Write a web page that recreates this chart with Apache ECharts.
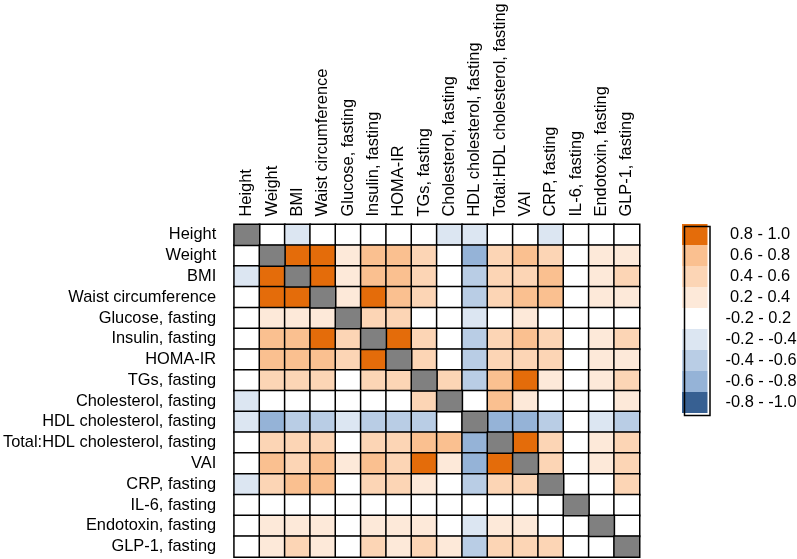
<!DOCTYPE html>
<html>
<head>
<meta charset="utf-8">
<script src="https://cdn.jsdelivr.net/npm/echarts@6/dist/echarts.min.js"></script>
<style>
html,body{margin:0;padding:0;background:#fff;}
#chart{width:797px;height:559px;}
</style>
</head>
<body>
<div id="chart"></div>
<script>
// Variable names (same order on both axes)
const variables = [
  'Height', 'Weight', 'BMI', 'Waist circumference', 'Glucose, fasting',
  'Insulin, fasting', 'HOMA-IR', 'TGs, fasting', 'Cholesterol, fasting',
  'HDL cholesterol, fasting', 'Total:HDL cholesterol, fasting', 'VAI',
  'CRP, fasting', 'IL-6, fasting', 'Endotoxin, fasting', 'GLP-1, fasting'
];

// Estimated correlation coefficients (row = y variable, column = x variable); null = diagonal
const corrMatrix = [
  [null, 0.0, -0.3, 0.0, 0.0, 0.0, 0.0, 0.0, -0.3, -0.3, 0.0, 0.0, -0.3, 0.0, 0.0, 0.0],
  [0.0, null, 0.9, 0.9, 0.3, 0.7, 0.7, 0.5, 0.0, -0.7, 0.5, 0.7, 0.5, 0.0, 0.3, 0.3],
  [-0.3, 0.9, null, 0.9, 0.3, 0.7, 0.7, 0.5, 0.0, -0.5, 0.5, 0.5, 0.7, 0.0, 0.3, 0.5],
  [0.0, 0.9, 0.9, null, 0.3, 0.9, 0.7, 0.5, 0.0, -0.5, 0.5, 0.7, 0.7, 0.0, 0.3, 0.3],
  [0.0, 0.3, 0.3, 0.3, null, 0.5, 0.5, 0.0, 0.0, -0.3, 0.0, 0.3, 0.0, 0.0, 0.0, 0.0],
  [0.0, 0.7, 0.7, 0.9, 0.5, null, 0.9, 0.5, 0.0, -0.5, 0.5, 0.7, 0.5, 0.0, 0.3, 0.5],
  [0.0, 0.7, 0.7, 0.7, 0.5, 0.9, null, 0.5, 0.0, -0.5, 0.5, 0.5, 0.5, 0.0, 0.3, 0.3],
  [0.0, 0.5, 0.5, 0.5, 0.0, 0.5, 0.5, null, 0.5, -0.5, 0.7, 0.9, 0.3, 0.0, 0.3, 0.5],
  [-0.3, 0.0, 0.0, 0.0, 0.0, 0.0, 0.0, 0.5, null, 0.0, 0.7, 0.3, 0.0, 0.0, 0.0, 0.3],
  [-0.3, -0.7, -0.5, -0.5, -0.3, -0.5, -0.5, -0.5, 0.0, null, -0.7, -0.7, -0.5, 0.0, -0.3, -0.5],
  [0.0, 0.5, 0.5, 0.5, 0.0, 0.5, 0.5, 0.7, 0.7, -0.7, null, 0.9, 0.5, 0.0, 0.3, 0.5],
  [0.0, 0.7, 0.5, 0.7, 0.3, 0.7, 0.5, 0.9, 0.3, -0.7, 0.9, null, 0.5, 0.0, 0.3, 0.5],
  [-0.3, 0.5, 0.7, 0.7, 0.0, 0.5, 0.5, 0.3, 0.0, -0.5, 0.5, 0.5, null, 0.0, 0.0, 0.5],
  [0.0, 0.0, 0.0, 0.0, 0.0, 0.0, 0.0, 0.0, 0.0, 0.0, 0.0, 0.0, 0.0, null, 0.0, 0.0],
  [0.0, 0.3, 0.3, 0.3, 0.0, 0.3, 0.3, 0.3, 0.0, -0.3, 0.3, 0.3, 0.0, 0.0, null, 0.0],
  [0.0, 0.3, 0.5, 0.3, 0.0, 0.5, 0.3, 0.5, 0.3, -0.5, 0.5, 0.5, 0.5, 0.0, 0.0, null]
];

// Legend bins
const binLabels = [' 0.8 - 1.0', ' 0.6 - 0.8', ' 0.4 - 0.6', ' 0.2 - 0.4', '-0.2 - 0.2',
                   '-0.2 - -0.4', '-0.4 - -0.6', '-0.6 - -0.8', '-0.8 - -1.0'];
const binLow  = [0.8, 0.6, 0.4, 0.2, -0.2, -0.4, -0.6, -0.8, -1.0];
const binHigh = [1.0, 0.8, 0.6, 0.4, 0.2, -0.2, -0.4, -0.6, -0.8];
const binColors = ['#E46C0A', '#FAC090', '#FCD5B5', '#FDE9D9', '#FFFFFF',
                   '#DCE6F2', '#B9CDE5', '#95B3D7', '#376092'];

const cellData = [];
const diagData = [];
corrMatrix.forEach((row, r) => {
  row.forEach((v, c) => {
    if (v === null) diagData.push([c, r, 1]);
    else cellData.push([c, r, v]);
  });
});

const pieces = binLabels.map((lab, i) => ({
  gt: binLow[i], lte: binHigh[i], label: lab, color: binColors[i]
}));
pieces[4] = { gt: -0.2, lt: 0.2, label: binLabels[4], color: binColors[4] };

const FONT = 'Liberation Sans, Arial, sans-serif';
const FS = 16.4;
const chart = echarts.init(document.getElementById('chart'), null, { renderer: 'canvas' });
chart.setOption({
  animation: false,
  backgroundColor: '#ffffff',
  grid: { left: 233.5, top: 224.5, width: 406, height: 332.5 },
  xAxis: {
    type: 'category', data: variables, position: 'top',
    axisLine: { show: false }, axisTick: { show: false }, splitArea: { show: false },
    axisLabel: { rotate: -90, interval: 0, margin: 8, color: '#000', fontSize: FS, fontFamily: FONT }
  },
  yAxis: {
    type: 'category', data: variables, inverse: true,
    axisLine: { show: false }, axisTick: { show: false }, splitArea: { show: false },
    axisLabel: { interval: 0, margin: 18, color: '#000', fontSize: FS, fontFamily: FONT }
  },
  visualMap: {
    type: 'piecewise', seriesIndex: 0, pieces: pieces,
    orient: 'vertical', left: 682, top: 224, align: 'left',
    itemWidth: 25.5, itemHeight: 21, itemGap: 0, itemSymbol: 'rect',
    textGap: 18, padding: 0, selectedMode: false, inverse: false,
    textStyle: { color: '#000', fontSize: FS, fontFamily: FONT }
  },
  graphic: [{
    type: 'rect', left: 682, top: 224, z: 100,
    shape: { width: 25.5, height: 189 },
    style: { fill: 'none', stroke: '#000', lineWidth: 1.5 }
  }],
  series: [{
    type: 'heatmap', data: cellData,
    itemStyle: { borderColor: '#000', borderWidth: 1.5 },
    emphasis: { disabled: true }
  }, {
    type: 'heatmap', data: diagData,
    itemStyle: { color: '#808080', borderColor: '#000', borderWidth: 1.5 },
    emphasis: { disabled: true }
  }]
});
</script>
</body>
</html>
